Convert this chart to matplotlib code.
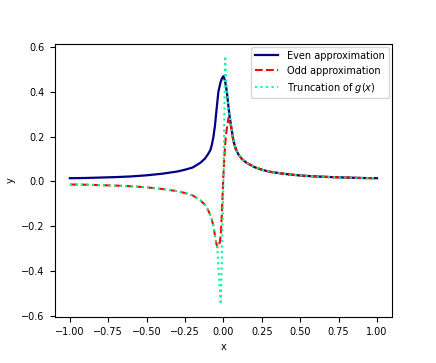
import matplotlib
matplotlib.use("Agg")
import matplotlib.pyplot as plt

# values
x_even = [-1.0, -0.9, -0.8, -0.7, -0.6, -0.5, -0.4, -0.3, -0.25, -0.2, -0.15,
          -0.12, -0.1, -0.085, -0.075, -0.065, -0.055, -0.045, -0.033, -0.02,
          -0.01, 0.0, 0.01, 0.022, 0.03, 0.04, 0.05, 0.065, 0.08, 0.1, 0.12,
          0.15, 0.2, 0.25, 0.3, 0.4, 0.5, 0.6, 0.7, 0.8, 0.9, 1.0]
y_even = [0.014, 0.015, 0.017, 0.019, 0.022, 0.027, 0.034, 0.044, 0.052, 0.062, 0.083,
          0.102, 0.122, 0.14, 0.165, 0.20, 0.25, 0.32, 0.40, 0.44,
          0.46, 0.47, 0.45, 0.40, 0.35, 0.29, 0.245, 0.18, 0.145, 0.117, 0.100,
          0.083, 0.064, 0.052, 0.043, 0.033, 0.026, 0.022, 0.019, 0.017, 0.015, 0.014]

x_odd = [-1.0, -0.9, -0.8, -0.7, -0.6, -0.5, -0.4, -0.3, -0.25, -0.2, -0.15,
         -0.12, -0.1, -0.08, -0.065, -0.05, -0.045, -0.039, -0.033, -0.025,
         -0.017, -0.01, -0.005, 0.0, 0.005, 0.015, 0.025, 0.033, 0.04, 0.05,
         0.065, 0.08, 0.1, 0.12, 0.15, 0.2, 0.25, 0.3, 0.4, 0.5, 0.6, 0.7,
         0.8, 0.9, 1.0]
y_odd = [-0.014, -0.015, -0.017, -0.019, -0.022, -0.027, -0.034, -0.044, -0.052, -0.063, -0.085,
         -0.105, -0.128, -0.16, -0.20, -0.265, -0.28, -0.295, -0.29, -0.275,
         -0.24, -0.14, -0.05, 0.03, 0.10, 0.20, 0.25, 0.284, 0.28, 0.245,
         0.18, 0.145, 0.117, 0.100, 0.083, 0.064, 0.052, 0.043, 0.033, 0.026, 0.022, 0.019,
         0.017, 0.015, 0.014]

x_trunc = [-1.0, -0.9, -0.8, -0.7, -0.6, -0.5, -0.4, -0.3, -0.25, -0.2, -0.15,
           -0.12, -0.1, -0.08, -0.065, -0.05, -0.04, -0.03, -0.02, -0.017,
           0.0, 0.011, 0.02, 0.03, 0.04, 0.05, 0.065, 0.08, 0.1, 0.12, 0.15,
           0.2, 0.25, 0.3, 0.4, 0.5, 0.6, 0.7, 0.8, 0.9, 1.0]
y_trunc = [-0.014, -0.015, -0.017, -0.019, -0.022, -0.027, -0.034, -0.044, -0.052, -0.063, -0.085,
           -0.105, -0.128, -0.16, -0.20, -0.265, -0.30, -0.42, -0.52, -0.55,
           0.0, 0.56, 0.43, 0.35, 0.29, 0.245, 0.18, 0.145, 0.117, 0.100, 0.083,
           0.064, 0.052, 0.043, 0.033, 0.026, 0.022, 0.019, 0.017, 0.015, 0.014]

plt.rcParams['font.size'] = 7

fig = plt.figure(figsize=(4.36, 3.63), dpi=100)
ax = fig.add_subplot(111)
fig.subplots_adjust(left=0.125, right=0.9, top=0.88, bottom=0.127)

ax.plot(x_even, y_even, color='navy', lw=1.6, label='Even approximation')
ax.plot(x_odd, y_odd, color='red', ls='--', lw=1.5, label='Odd approximation')
ax.plot(x_trunc, y_trunc, color='mediumspringgreen', ls=':', lw=1.5,
        label='Truncation of $g(x)$')

ax.set_xlabel('x')
ax.set_ylabel('y')
ax.legend(loc='upper right', handlelength=2.3, handletextpad=1.0,
          borderaxespad=0.35)

fig.savefig('out.png', dpi=100)
